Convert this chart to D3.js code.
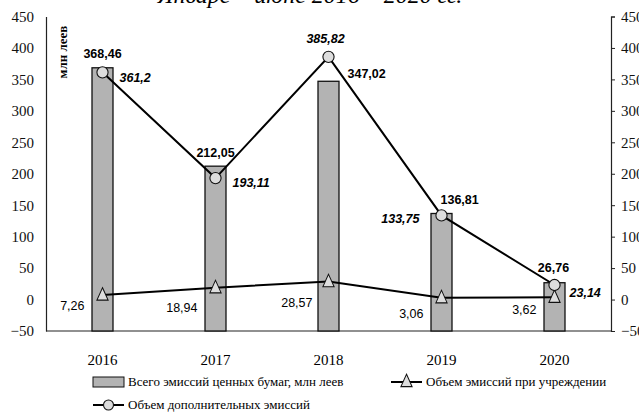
<!DOCTYPE html>
<html>
<head>
<meta charset="utf-8">
<script src="https://cdn.jsdelivr.net/npm/d3@7/dist/d3.min.js"></script>
<style>
    body { margin: 0; background: #fff; }
    svg { display: block; }
    .tick text { font-family: "Liberation Serif", serif; font-size: 15px; fill: #111; }
</style>
</head>
<body>
<svg id="chart" width="639" height="412"></svg>
<script>
const years = ['2016', '2017', '2018', '2019', '2020'];
const totalIssues = [368.46, 212.05, 347.02, 136.81, 26.76];
const additionalIssues = [361.2, 193.11, 385.82, 133.75, 23.14];
const foundingIssues = [7.26, 18.94, 28.57, 3.06, 3.62];
const yTicks = [-50, 0, 50, 100, 150, 200, 250, 300, 350, 400, 450];

const totalName = 'Всего эмиссий ценных бумаг, млн леев';
const foundingName = 'Объем эмиссий при учреждении';
const additionalName = 'Объем дополнительных эмиссий';

const svg = d3.select('#chart');
const plotLeft = 46, plotRight = 611, plotTop = 16.5, plotBottom = 331;

const x = d3.scaleBand().domain(years).range([plotLeft, plotRight]);
const y = d3.scaleLinear().domain([-50, 450]).range([plotBottom, plotTop]);
const cx = d => x(d) + x.bandwidth() / 2;

// title, mostly cut off by the top edge
svg.append('text')
    .attr('x', 310)
    .attr('y', 3)
    .attr('text-anchor', 'middle')
    .style('font-family', 'Liberation Serif, serif')
    .style('font-style', 'italic')
    .style('font-size', '24px')
    .text('Январе – июне 2016 – 2020 гг.');

// axes
const leftAxis = svg.append('g')
    .attr('transform', `translate(${plotLeft},0)`)
    .call(d3.axisLeft(y).tickValues(yTicks).tickSize(0).tickPadding(12));
leftAxis.select('.domain').attr('stroke', '#222').attr('stroke-width', 1.2);

const rightAxis = svg.append('g')
    .attr('transform', `translate(${plotRight},0)`)
    .call(d3.axisRight(y).tickValues(yTicks).tickSizeInner(4).tickSizeOuter(4).tickPadding(6));
rightAxis.selectAll('line').attr('stroke', '#222');
rightAxis.select('.domain').attr('stroke', '#222').attr('stroke-width', 1.2);
rightAxis.selectAll('.tick text').attr('text-anchor', 'start');

svg.append('line')
    .attr('x1', plotLeft).attr('x2', plotRight)
    .attr('y1', plotBottom).attr('y2', plotBottom)
    .attr('stroke', '#222').attr('stroke-width', 1.2);

svg.append('text')
    .attr('transform', `translate(67,52) rotate(-90)`)
    .attr('text-anchor', 'middle')
    .style('font-family', 'Liberation Serif, serif')
    .style('font-weight', 'bold')
    .style('font-size', '13px')
    .text('млн леев');

// year labels
svg.selectAll('.year')
    .data(years).enter().append('text')
    .attr('class', 'year')
    .attr('x', d => cx(d))
    .attr('y', 365)
    .attr('text-anchor', 'middle')
    .style('font-family', 'Liberation Serif, serif')
    .style('font-size', '15px')
    .text(d => d);

// bars from the bottom of the axis
const barW = 21;
svg.selectAll('.bar')
    .data(totalIssues).enter().append('rect')
    .attr('class', 'bar')
    .attr('x', (d, i) => cx(years[i]) - barW / 2)
    .attr('y', d => y(d))
    .attr('width', barW)
    .attr('height', d => plotBottom - y(d))
    .style('fill', '#b3b3b3')
    .style('stroke', '#111')
    .style('stroke-width', 1.3);

const line = d3.line().x((d, i) => cx(years[i])).y(d => y(d));

svg.append('path')
    .datum(foundingIssues)
    .attr('d', line)
    .style('fill', 'none')
    .style('stroke', '#000')
    .style('stroke-width', 2);

svg.append('path')
    .datum(additionalIssues)
    .attr('d', line)
    .style('fill', 'none')
    .style('stroke', '#000')
    .style('stroke-width', 2);

const tri = d3.symbol().type(d3.symbolTriangle).size(75);
svg.selectAll('.tri')
    .data(foundingIssues).enter().append('path')
    .attr('class', 'tri')
    .attr('d', tri)
    .attr('transform', (d, i) => `translate(${cx(years[i])},${y(d) + 1}) scale(0.85,1.1)`)
    .style('fill', '#ddd')
    .style('stroke', '#111')
    .style('stroke-width', 1.1);

svg.selectAll('.dot')
    .data(additionalIssues).enter().append('circle')
    .attr('class', 'dot')
    .attr('cx', (d, i) => cx(years[i]))
    .attr('cy', d => y(d))
    .attr('r', 5.6)
    .style('fill', '#ddd')
    .style('stroke', '#111')
    .style('stroke-width', 1.1);

// value labels
const fmt = v => String(v).replace('.', ',');
const labelStyle = sel => sel
    .style('font-family', 'Liberation Sans, Arial, sans-serif')
    .style('font-size', '12.5px');

// placement of each label relative to its point: [dx, dy, anchor]
const totalPlace = [[0, -10, 'middle'], [0, -9, 'middle'], [19, -3, 'start'], [-1, -9, 'start'], [-1, -11, 'middle']];
const additionalPlace = [[17, 10, 'start'], [17, 9, 'start'], [-3, -14, 'middle'], [-22, 8, 'end'], [15, 12, 'start']];
const foundingPlace = [[-18, 15, 'end'], [-18, 24, 'end'], [-16, 25, 'end'], [-18, 20, 'end'], [-18, 17, 'end']];

svg.selectAll('.lblTotal')
    .data(totalIssues).enter().append('text')
    .attr('class', 'lblTotal')
    .attr('x', (d, i) => cx(years[i]) + totalPlace[i][0])
    .attr('y', d => y(d))
    .attr('dy', (d, i) => totalPlace[i][1])
    .attr('text-anchor', (d, i) => totalPlace[i][2])
    .call(labelStyle)
    .style('font-weight', 'bold')
    .text(fmt);

svg.selectAll('.lblAdd')
    .data(additionalIssues).enter().append('text')
    .attr('class', 'lblAdd')
    .attr('x', (d, i) => cx(years[i]) + additionalPlace[i][0])
    .attr('y', d => y(d))
    .attr('dy', (d, i) => additionalPlace[i][1])
    .attr('text-anchor', (d, i) => additionalPlace[i][2])
    .call(labelStyle)
    .style('font-weight', 'bold')
    .style('font-style', 'italic')
    .text(fmt);

svg.selectAll('.lblFound')
    .data(foundingIssues).enter().append('text')
    .attr('class', 'lblFound')
    .attr('x', (d, i) => cx(years[i]) + foundingPlace[i][0])
    .attr('y', d => y(d))
    .attr('dy', (d, i) => foundingPlace[i][1])
    .attr('text-anchor', (d, i) => foundingPlace[i][2])
    .call(labelStyle)
    .text(fmt);

// legend
const legend = svg.append('g')
    .style('font-family', 'Liberation Serif, serif')
    .style('font-size', '13px');

legend.append('rect')
    .attr('x', 93).attr('y', 377)
    .attr('width', 31).attr('height', 10)
    .style('fill', '#b3b3b3').style('stroke', '#111').style('stroke-width', 1);
legend.append('text').attr('x', 128).attr('y', 386).text(totalName);

legend.append('line')
    .attr('x1', 391).attr('x2', 422).attr('y1', 382).attr('y2', 382)
    .style('stroke', '#000').style('stroke-width', 2);
legend.append('path')
    .attr('d', tri)
    .attr('transform', 'translate(406.5,382.5) scale(0.85,1.1)')
    .style('fill', '#ddd').style('stroke', '#111').style('stroke-width', 1.1);
legend.append('text').attr('x', 426).attr('y', 386).text(foundingName);

legend.append('line')
    .attr('x1', 93).attr('x2', 124).attr('y1', 405).attr('y2', 405)
    .style('stroke', '#000').style('stroke-width', 2);
legend.append('circle')
    .attr('cx', 108.5).attr('cy', 405).attr('r', 5)
    .style('fill', '#ddd').style('stroke', '#111').style('stroke-width', 1.1);
legend.append('text').attr('x', 128).attr('y', 409).text(additionalName);
</script>
</body>
</html>
